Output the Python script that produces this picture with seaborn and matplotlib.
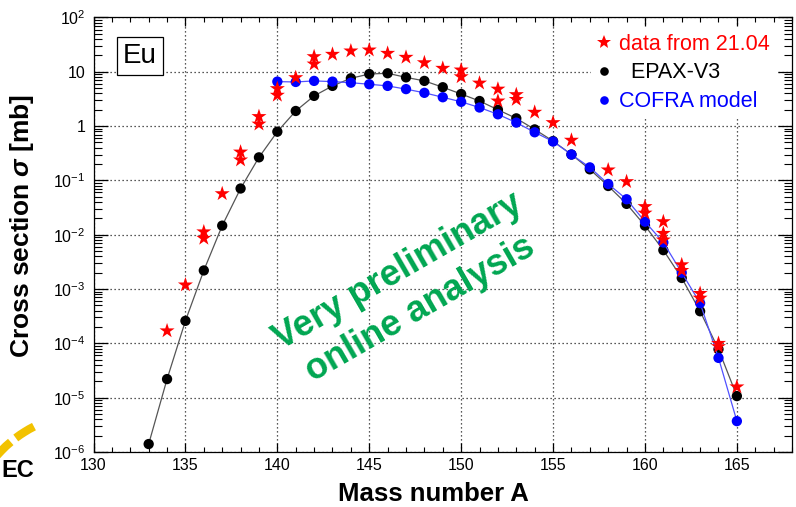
import matplotlib
matplotlib.use("Agg")
import matplotlib.pyplot as plt
import seaborn as sns
import pandas as pd
from matplotlib.ticker import FixedLocator, FixedFormatter, MultipleLocator, LogLocator, NullFormatter
from matplotlib.lines import Line2D
from matplotlib.patches import Arc
from matplotlib.transforms import IdentityTransform

# EPAX-V3 systematics (mb)
epax_mass = list(range(133, 166))
epax_xs = [1.4e-6, 2.2e-5, 2.6e-4, 2.2e-3, 0.0147, 0.071, 0.266, 0.79, 1.9, 3.6,
           5.5, 7.6, 9.1, 9.4, 7.9, 6.8, 5.2, 3.9, 2.9, 2.0,
           1.39, 0.87, 0.53, 0.30, 0.16, 0.079, 0.037, 0.0147, 0.0052, 1.6e-3,
           3.9e-4, 7.8e-5, 1.07e-5]

# COFRA model (mb)
cofra_mass = list(range(140, 166))
cofra_xs = [6.6, 6.5, 6.8, 6.6, 6.3, 5.9, 5.5, 4.8, 4.1, 3.4,
            2.8, 2.2, 1.65, 1.16, 0.77, 0.52, 0.30, 0.174, 0.086, 0.045,
            0.0174, 0.0072, 2.0e-3, 5.5e-4, 5.4e-5, 3.7e-6]

# measured cross sections, run of 21.04 (several settings per mass)
data_mass = [134, 135, 136, 136, 137, 138, 138, 139, 139, 140, 140, 141,
             142, 142, 143, 144, 145, 146, 147, 148, 149, 150, 150, 151,
             152, 152, 153, 153, 154, 155, 156, 158, 159, 160, 160,
             161, 161, 161, 162, 162, 163, 163, 164, 164, 165]
data_xs = [1.7e-4, 1.19e-3, 0.0113, 0.0086, 0.057, 0.333, 0.238, 1.5, 1.09, 4.9, 3.7, 7.8,
           19.0, 13.9, 21.0, 24.2, 25.2, 21.9, 18.5, 14.7, 11.6, 10.8, 8.1, 6.2,
           4.8, 2.9, 3.8, 3.1, 1.8, 1.16, 0.55, 0.156, 0.095, 0.033, 0.025,
           0.0174, 0.0106, 0.008, 2.8e-3, 2.2e-3, 8.3e-4, 6.8e-4, 1.0e-4, 8.7e-5, 1.58e-5]

x_ticks = [130, 135, 140, 145, 150, 155, 160, 165]
y_ticks = [1e-6, 1e-5, 1e-4, 1e-3, 1e-2, 1e-1, 1, 10, 100]
y_tick_labels = ["$10^{-6}$", "$10^{-5}$", "$10^{-4}$", "$10^{-3}$", "$10^{-2}$",
                 "$10^{-1}$", "1", "10", "$10^{2}$"]
legend_labels = ["data from 21.04", "  EPAX-V3", "COFRA model"]

sns.set_style("ticks")
plt.rcParams["font.family"] = ["Liberation Sans", "DejaVu Sans"]
plt.rcParams["mathtext.fontset"] = "custom"
plt.rcParams["mathtext.rm"] = "Liberation Sans"
plt.rcParams["mathtext.it"] = "Liberation Sans:italic:bold"
plt.rcParams["mathtext.bf"] = "Liberation Sans:bold"
for key in ["text.color", "axes.labelcolor", "xtick.color", "ytick.color",
            "xtick.labelcolor", "ytick.labelcolor"]:
    plt.rcParams[key] = "black"

epax = pd.DataFrame({"A": epax_mass, "xs": epax_xs})
cofra = pd.DataFrame({"A": cofra_mass, "xs": cofra_xs})
data = pd.DataFrame({"A": data_mass, "xs": data_xs})

fig = plt.figure(figsize=(7.96, 5.07), dpi=100)
ax = fig.add_axes([0.1175, 0.1085, 0.8775, 0.857])
ax.set_yscale("log")

sns.lineplot(data=epax, x="A", y="xs", ax=ax, color="#555555", lw=0.9, zorder=3)
sns.scatterplot(data=epax, x="A", y="xs", ax=ax, color="black", s=55,
                edgecolor="none", zorder=4)
sns.lineplot(data=cofra, x="A", y="xs", ax=ax, color="#5050ff", lw=0.9, zorder=5)
sns.scatterplot(data=cofra, x="A", y="xs", ax=ax, color="#0000ff", s=55,
                edgecolor="none", zorder=6)
sns.scatterplot(data=data, x="A", y="xs", ax=ax, color="#ff0000", marker="*",
                s=130, edgecolor="none", zorder=7)

ax.set_xlim(130, 168)
ax.set_ylim(1e-6, 1e2)

ax.xaxis.set_major_locator(FixedLocator(x_ticks))
ax.xaxis.set_minor_locator(MultipleLocator(1))
ax.yaxis.set_major_locator(FixedLocator(y_ticks))
ax.yaxis.set_major_formatter(FixedFormatter(y_tick_labels))
ax.yaxis.set_minor_locator(LogLocator(base=10, subs=range(2, 10), numticks=20))
ax.yaxis.set_minor_formatter(NullFormatter())

ax.tick_params(axis="both", which="both", direction="in", top=True, right=True,
               colors="black", labelcolor="black", labelsize=11.5)
ax.tick_params(axis="x", which="major", length=6.5, width=0.9, pad=4.5)
ax.tick_params(axis="x", which="minor", length=3.5, width=0.8)
ax.tick_params(axis="y", which="major", length=10, width=0.9, pad=6)
ax.tick_params(axis="y", which="minor", length=6, width=0.8)
for sp in ax.spines.values():
    sp.set_color("black")
    sp.set_linewidth(0.9)

ax.grid(True, which="major", ls=(0, (1, 2.2)), lw=0.9, color="#222222")
ax.set_axisbelow(True)

ax.set_xlabel("Mass number A", fontsize=18.5, weight="bold", color="black")
ax.xaxis.set_label_coords(0.486, -0.07)
ax.set_ylabel("Cross section $\\sigma$ [mb]", fontsize=19, weight="bold",
              va="center", color="black")
ax.yaxis.set_label_coords(-0.1024, 0.52)

# element tag
ax.text(0.0659, 0.9114, "Eu", transform=ax.transAxes, fontsize=20,
        ha="center", va="center",
        bbox=dict(boxstyle="square,pad=0.22", fc="white", ec="black", lw=0.9), zorder=8)

# watermark
ax.text(0.452, 0.372, "Very preliminary\nonline analysis", transform=ax.transAxes,
        rotation=30, fontsize=26, weight="bold", color="#00a651", linespacing=1.3,
        ha="center", va="center", multialignment="center", zorder=9)

handles = [
    Line2D([], [], ls="none", marker="*", color="#ff0000", markersize=10, markeredgewidth=0),
    Line2D([], [], ls="none", marker="o", color="black", markersize=6.2, markeredgewidth=0),
    Line2D([], [], ls="none", marker="o", color="#0000ff", markersize=6.2, markeredgewidth=0),
]
leg = ax.legend(handles, legend_labels, loc="upper right", bbox_to_anchor=(0.977, 0.978),
                frameon=True, fancybox=False, edgecolor="none", facecolor="white",
                framealpha=1, fontsize=15.5, handlelength=0.6, handletextpad=0.4,
                labelspacing=0.37, borderpad=0.3, borderaxespad=0,
                labelcolor=["#ff0000", "black", "#0000ff"])
leg.set_zorder(10)

# logo fragment at the lower left
for t1, t2 in [(117, 127), (130, 142)]:
    fig.add_artist(Arc((89.8, -29.2), 246, 246, theta1=t1, theta2=t2,
                       transform=IdentityTransform(), color="#f2c200", lw=6))
fig.text(1 / 796, 30 / 507, "EC", ha="left", va="baseline", fontsize=17, weight="bold")

fig.savefig("out.png", dpi=100)
